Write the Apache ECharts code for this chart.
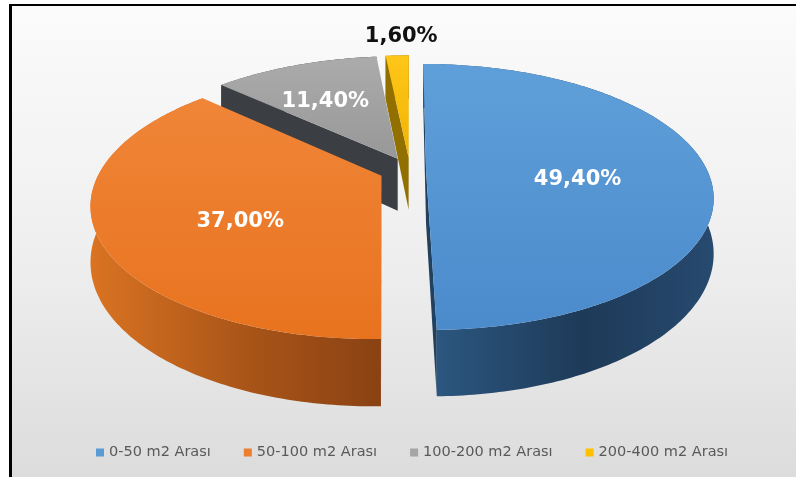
<!DOCTYPE html>
<html>
<head>
<meta charset="utf-8">
<script src="https://cdn.jsdelivr.net/npm/echarts@6/dist/echarts.min.js"></script>
<style>
html,body{margin:0;padding:0;background:#fff;width:796px;height:477px;overflow:hidden;}
#frame{position:absolute;left:9px;top:4px;width:787px;height:473px;border-left:3px solid #000;border-top:2px solid #000;
background:linear-gradient(to bottom,#fbfbfb 0%,#eeeeee 55%,#dcdcdc 100%);box-sizing:border-box;}
#chart{position:absolute;left:0;top:0;width:796px;height:477px;}
</style>
</head>
<body>
<div id="frame"></div>
<div id="chart"></div>
<script>
// ---- data ----
const categories = ['0-50 m2 Arası', '50-100 m2 Arası', '100-200 m2 Arası', '200-400 m2 Arası'];
const values = [49.4, 37.0, 11.4, 1.6];

// ---- styles / layout ----
const topColors = [['#5f9fd9', '#4b8bcc'], ['#f08538', '#e8731f'], ['#ababab', '#989898'], ['#ffc61a', '#f0b400']];
const sideColors = [['#2d5983', '#1e3a58', '#274a6f'], ['#da7322', '#a85418', '#8a4213'], ['#5a5a5a', '#3f3f3f', '#333'], ['#b38a00', '#8c6b00', '#7a5d00']];
const cutColors = ['#21415f', '#8f4a14', '#3b3e42', '#917000'];
const legendColors = ['#5b9bd5', '#ed7d31', '#a5a5a5', '#ffc000'];
const explode = [0.057, 0.11, 0.10, 0.10];
const labelR = [0.54, 0.5, 0.62, 1.0];
const labelDx = [0, -5, -5, 4];
const labelDy = [10, 18, 4, -19];
const labelColor = ['#fff', '#fff', '#fff', '#111'];
const CX = 410, CY = 170, A = 281, B = 127.5, P = 0.203, HD = 53;

const total = values.reduce((s, v) => s + v, 0);
const fmt = v => v.toFixed(2).replace('.', ',') + '%';

function renderItem(params, api) {
  const i = params.dataIndex;
  const v = api.value(0);
  let cum = 0;
  for (let k = 0; k < i; k++) cum += values[k];
  const ts = 2 * Math.PI * cum / total;
  const te = ts + 2 * Math.PI * v / total;
  const mid = (ts + te) / 2;
  const ox = explode[i] * Math.sin(mid), oz = explode[i] * Math.cos(mid);
  const pt = (r, th) => {
    const X = ox + r * Math.sin(th), Z = oz + r * Math.cos(th);
    const d = 1 + P * Z;
    return [CX + A * X / d, CY - B * Z / d, HD / d];
  };
  const n = Math.max(2, Math.ceil((te - ts) / 0.015));
  const arc = [];
  for (let k = 0; k <= n; k++) arc.push(pt(1, ts + (te - ts) * k / n));
  const apex = pt(0, 0);
  const children = [];
  // outer wall
  const wall = arc.map(p => [p[0], p[1]]);
  for (let k = arc.length - 1; k >= 0; k--) wall.push([arc[k][0], arc[k][1] + arc[k][2]]);
  children.push({
    type: 'polygon', z2: 1, shape: { points: wall },
    style: { fill: new echarts.graphic.LinearGradient(0, 0, 1, 0, [
      { offset: 0, color: sideColors[i][0] }, { offset: 0.55, color: sideColors[i][1] }, { offset: 1, color: sideColors[i][2] }]) }
  });
  // cut faces with visibility test (camera at Z = -1/P)
  const camZ = -1 / P;
  const faces = [[ts, [-Math.cos(ts), Math.sin(ts)]], [te, [Math.cos(te), -Math.sin(te)]]];
  faces.forEach(([th, nrm]) => {
    const dot = nrm[0] * (0 - ox) + nrm[1] * (camZ - oz);
    if (dot > 0) {
      const q = pt(1, th);
      children.push({
        type: 'polygon', z2: 2,
        shape: { points: [[apex[0], apex[1]], [q[0], q[1]], [q[0], q[1] + q[2]], [apex[0], apex[1] + apex[2]]] },
        style: { fill: cutColors[i] }
      });
    }
  });
  // top face
  const top = [[apex[0], apex[1]]].concat(arc.map(p => [p[0], p[1]]));
  children.push({
    type: 'polygon', z2: 10, shape: { points: top },
    style: { fill: new echarts.graphic.LinearGradient(0, 0, 0, 1, [
      { offset: 0, color: topColors[i][0] }, { offset: 1, color: topColors[i][1] }]) }
  });
  // label
  const lp = pt(labelR[i], mid);
  children.push({
    type: 'text', z2: 20,
    style: {
      text: fmt(v), x: lp[0] + labelDx[i], y: lp[1] + labelDy[i],
      fill: labelColor[i], fontSize: 21, fontWeight: 'bold', fontFamily: 'DejaVu Sans',
      align: 'center', verticalAlign: 'middle'
    }
  });
  return { type: 'group', children };
}

const chart = echarts.init(document.getElementById('chart'), null, { renderer: 'canvas' });
chart.setOption({
  backgroundColor: 'transparent',
  animation: false,
  legend: {
    top: 440, left: 91, icon: 'rect', itemWidth: 8, itemHeight: 8, itemGap: 33,
    textStyle: { fontSize: 14.5, color: '#595959', fontFamily: 'DejaVu Sans' },
    data: categories
  },
  series: [
    {
      type: 'custom', coordinateSystem: 'none', renderItem: renderItem, silent: true,
      data: values.map((v, i) => ({ name: categories[i], value: [v] }))
    },
    {
      type: 'pie', radius: [0, 0], center: ['50%', '40%'], silent: true,
      label: { show: false }, labelLine: { show: false },
      data: values.map((v, i) => ({ name: categories[i], value: v, itemStyle: { color: legendColors[i] } }))
    }
  ]
});
</script>
</body>
</html>
